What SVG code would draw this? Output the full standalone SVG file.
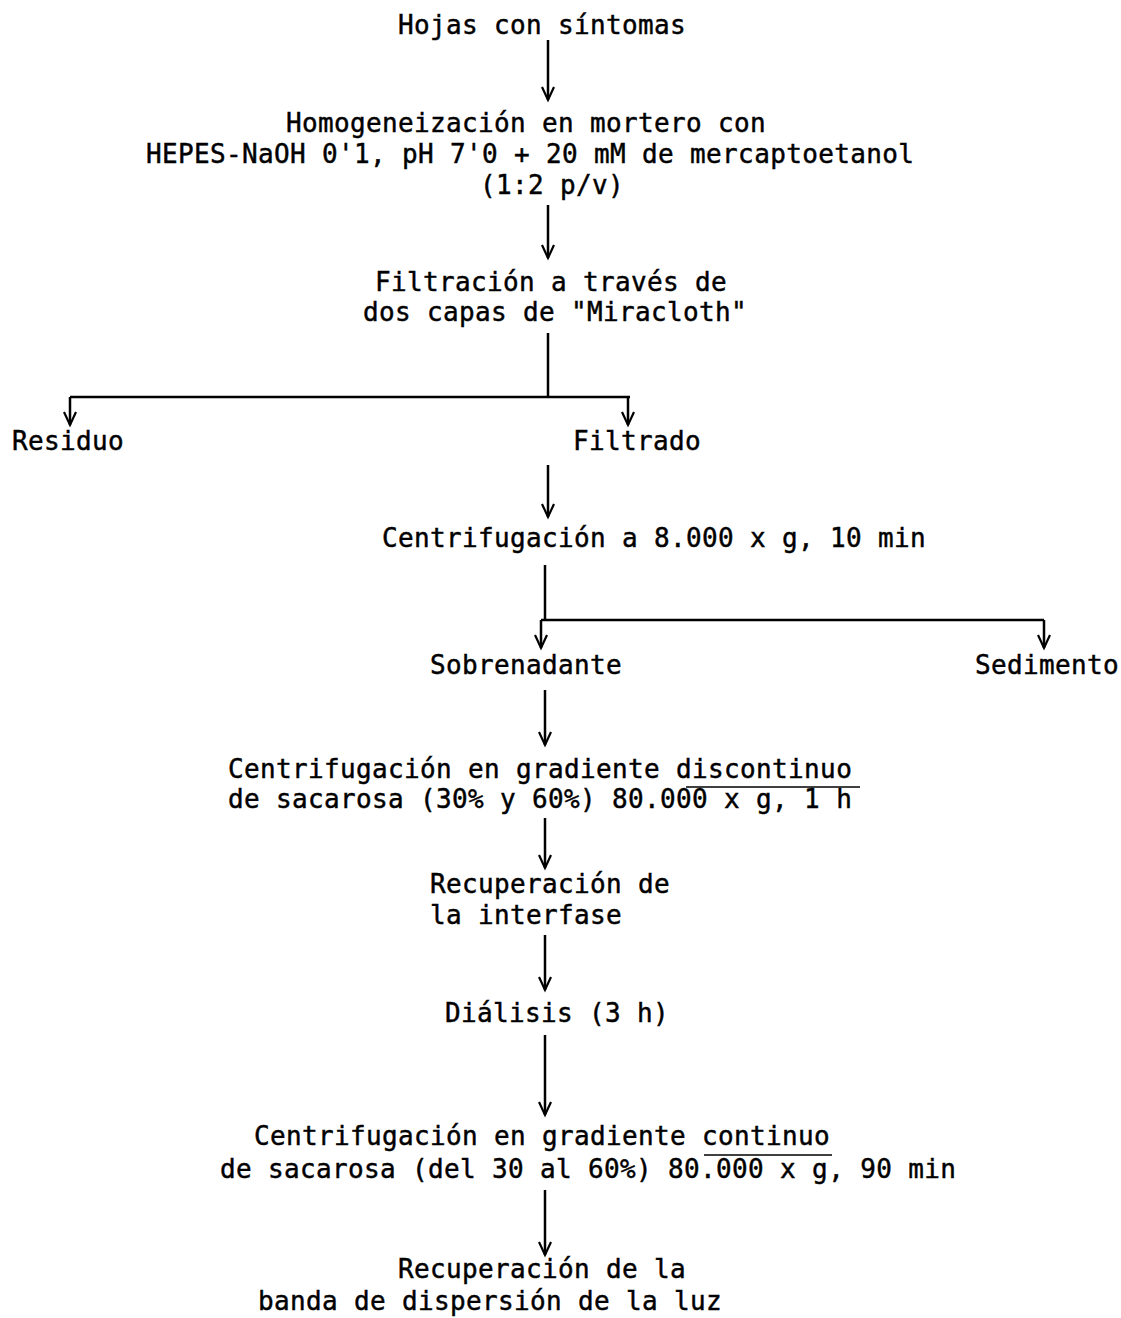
<svg xmlns="http://www.w3.org/2000/svg" width="1121" height="1318" viewBox="0 0 1121 1318">
<style>
text{font-family:"DejaVu Sans Mono","Liberation Mono",monospace;font-size:26px;letter-spacing:0.35px;fill:#000;stroke:#000;stroke-width:0.45}
.c line,.c path{stroke:#000;stroke-width:2.5;fill:none}
.m{stroke:#000;stroke-width:1.5}
</style>
<defs>
<marker id="ah" viewBox="-14 -8 16 16" markerWidth="16" markerHeight="16" refX="0" refY="0" orient="auto" markerUnits="userSpaceOnUse" overflow="visible">
<path d="M-13,-6 L0,0 L-13,6" fill="none" stroke="#000" stroke-width="2.2"/>
</marker>
</defs>
<rect width="1121" height="1318" fill="#fff"/>
<g id="n1"><text x="398" y="34">Hojas con síntomas</text></g>
<g id="n2"><text x="286" y="132">Homogeneización en mortero con</text><text x="146" y="163">HEPES-NaOH 0'1, pH 7'0 + 20 mM de mercaptoetanol</text><text x="480" y="194">(1:2 p/v)</text></g>
<g id="n3"><text x="375" y="291">Filtración a través de</text><text x="363" y="321">dos capas de "Miracloth"</text></g>
<g id="n4"><text x="12" y="450">Residuo</text></g>
<g id="n5"><text x="573" y="450">Filtrado</text></g>
<g id="n6"><text x="382" y="547">Centrifugación a 8.000 x g, 10 min</text></g>
<g id="n7"><text x="430" y="674">Sobrenadante</text></g>
<g id="n8"><text x="975" y="674">Sedimento</text></g>
<g id="n9"><text x="228" y="778">Centrifugación en gradiente discontinuo</text><text x="228" y="808">de sacarosa (30% y 60%) 80.000 x g, 1 h</text><line class="m" x1="686" y1="787" x2="860" y2="787"/></g>
<g id="n10"><text x="430" y="893">Recuperación de</text><text x="430" y="924">la interfase</text></g>
<g id="n11"><text x="445" y="1022">Diálisis (3 h)</text></g>
<g id="n12"><text x="254" y="1145">Centrifugación en gradiente continuo</text><text x="220" y="1178">de sacarosa (del 30 al 60%) 80.000 x g, 90 min</text><line class="m" x1="704" y1="1155" x2="832" y2="1155"/></g>
<g id="n13"><text x="398" y="1278">Recuperación de la</text><text x="258" y="1310">banda de dispersión de la luz</text></g>
<g class="c" id="connectors">
<line x1="548" y1="40" x2="548" y2="100" marker-end="url(#ah)"/>
<line x1="548" y1="205" x2="548" y2="258" marker-end="url(#ah)"/>
<line x1="548" y1="333" x2="548" y2="397"/>
<path d="M70,397 H630"/>
<line x1="70" y1="397" x2="70" y2="425" marker-end="url(#ah)"/>
<line x1="628" y1="397" x2="628" y2="425" marker-end="url(#ah)"/>
<line x1="548" y1="465" x2="548" y2="517" marker-end="url(#ah)"/>
<line x1="545" y1="565" x2="545" y2="620"/>
<path d="M541,620 H1044"/>
<line x1="541" y1="620" x2="541" y2="648" marker-end="url(#ah)"/>
<line x1="1044" y1="620" x2="1044" y2="648" marker-end="url(#ah)"/>
<line x1="545" y1="690" x2="545" y2="745" marker-end="url(#ah)"/>
<line x1="545" y1="818" x2="545" y2="868" marker-end="url(#ah)"/>
<line x1="545" y1="935" x2="545" y2="990" marker-end="url(#ah)"/>
<line x1="545" y1="1035" x2="545" y2="1115" marker-end="url(#ah)"/>
<line x1="545" y1="1190" x2="545" y2="1255" marker-end="url(#ah)"/>
</g>
</svg>
